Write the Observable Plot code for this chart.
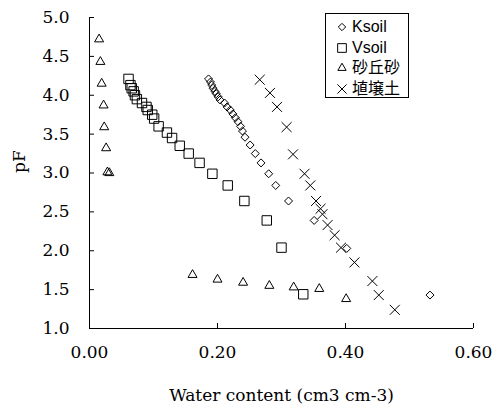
<!DOCTYPE html>
<html><head><meta charset="utf-8">
<script src="https://cdn.jsdelivr.net/npm/d3@7"></script>
<script src="https://cdn.jsdelivr.net/npm/@observablehq/plot@0.6"></script>
<style>
body{margin:0;background:#fff}
#wrap{position:relative;width:497px;height:407px}
#legend{position:absolute;left:325px;top:13px;width:82px;height:80px;border:1px solid #000;background:#fff;font-family:"Liberation Sans","Noto Sans CJK JP",sans-serif;font-size:16px;padding-top:3px;color:#000}
.row{height:20.5px;line-height:20.5px;display:flex;align-items:center;white-space:nowrap}
.row svg{margin-left:9px;margin-right:3px;overflow:visible}
</style></head><body><div id="wrap"></div>
<script>
// ---- data ----
const seriesNames = ["Ksoil", "Vsoil", "砂丘砂", "埴壌土"];
const xTicks = [0, 0.2, 0.4, 0.6];
const yTicks = [1.0, 1.5, 2.0, 2.5, 3.0, 3.5, 4.0, 4.5, 5.0];

const ksoilX  = [0.186,0.189,0.191,0.193,0.196,0.198,0.201,0.204,0.211,0.215,0.220,0.224,0.228,0.232,0.236,0.239,0.243,0.251,0.259,0.268,0.280,0.291,0.311,0.351,0.402,0.532];
const ksoilPF = [4.21,4.17,4.13,4.09,4.05,4.02,3.98,3.94,3.90,3.85,3.81,3.76,3.71,3.66,3.60,3.54,3.46,3.36,3.25,3.13,2.99,2.84,2.64,2.39,2.03,1.43];

const vsoilX  = [0.061,0.064,0.066,0.069,0.071,0.074,0.082,0.089,0.091,0.098,0.101,0.108,0.121,0.129,0.141,0.155,0.172,0.192,0.216,0.242,0.277,0.300,0.334];
const vsoilPF = [4.21,4.13,4.09,4.05,4.00,3.95,3.90,3.85,3.81,3.75,3.70,3.60,3.52,3.45,3.35,3.25,3.13,2.99,2.84,2.64,2.39,2.04,1.44];

const duneX  = [0.015,0.017,0.019,0.022,0.023,0.026,0.028,0.031,0.161,0.200,0.240,0.281,0.319,0.359,0.401];
const dunePF = [4.72,4.43,4.15,3.87,3.59,3.32,3.01,3.00,1.69,1.63,1.59,1.55,1.53,1.51,1.38];

const loamX  = [0.266,0.282,0.293,0.308,0.318,0.336,0.345,0.354,0.361,0.364,0.372,0.383,0.393,0.414,0.442,0.452,0.477];
const loamPF = [4.20,4.03,3.85,3.59,3.24,2.99,2.84,2.64,2.54,2.47,2.33,2.20,2.04,1.85,1.61,1.43,1.24];

// ---- build ----
const toRows = (xs, ys) => xs.map((x, i) => ({x, y: ys[i]}));
const series = [
  {name: seriesNames[0], rows: toRows(ksoilX, ksoilPF), symbol: "diamond2", d3s: d3.symbolDiamond2, r: 3.6},
  {name: seriesNames[1], rows: toRows(vsoilX, vsoilPF), symbol: "square2", d3s: d3.symbolSquare2, r: 6.0},
  {name: seriesNames[2], rows: toRows(duneX, dunePF), symbol: "triangle2", d3s: d3.symbolTriangle2, r: 4.3},
  {name: seriesNames[3], rows: toRows(loamX, loamPF), symbol: "times", d3s: d3.symbolTimes, r: 4.6}
];

const chart = Plot.plot({
  width: 497, height: 407,
  marginLeft: 89, marginRight: 24, marginTop: 17, marginBottom: 79,
  style: {fontFamily: "'DejaVu Serif', serif", fontSize: "17px", color: "#000", background: "#fff"},
  x: {domain: [0, 0.6]},
  y: {domain: [1, 5]},
  marks: [
    Plot.axisX(xTicks, {tickSize: 0, tickPadding: 17, tickFormat: d3.format(".2f"), label: null, fontSize: 17}),
    Plot.axisX(xTicks, {text: null, tickSize: 5, dy: -5, label: null}),
    Plot.axisY(yTicks, {tickSize: 0, tickPadding: 20, tickFormat: d3.format(".1f"), label: null, fontSize: 17}),
    Plot.axisY(yTicks, {text: null, tickSize: 5, dx: 5, label: null}),
    Plot.ruleX([0], {stroke: "#000"}),
    Plot.ruleY([1], {stroke: "#000"}),
    ...series.map(s => Plot.dot(s.rows, {x: "x", y: "y", symbol: () => s.symbol, r: s.r, stroke: "#000", strokeWidth: 1, fill: "none"})),
    Plot.text(["Water content (cm3 cm-3)"], {frameAnchor: "bottom", dy: 67, text: d => d, fontSize: 17, lineAnchor: "middle"}),
    Plot.text(["pF"], {frameAnchor: "left", dx: -70, rotate: -90, text: d => d, fontSize: 17, lineAnchor: "middle"})
  ]
});

const wrap = document.getElementById("wrap");
wrap.appendChild(chart);

const legend = document.createElement("div");
legend.id = "legend";
for (const s of series) {
  const row = document.createElement("div");
  row.className = "row";
  const svg = d3.create("svg").attr("width", 14).attr("height", 14);
  svg.append("path")
    .attr("transform", "translate(7,7)")
    .attr("d", d3.symbol(s.d3s, s.r * s.r * Math.PI * 0.85)())
    .attr("fill", "none").attr("stroke", "#000").attr("stroke-width", 1);
  row.appendChild(svg.node());
  const span = document.createElement("span");
  span.textContent = s.name;
  row.appendChild(span);
  legend.appendChild(row);
}
wrap.appendChild(legend);
</script>
</body></html>
